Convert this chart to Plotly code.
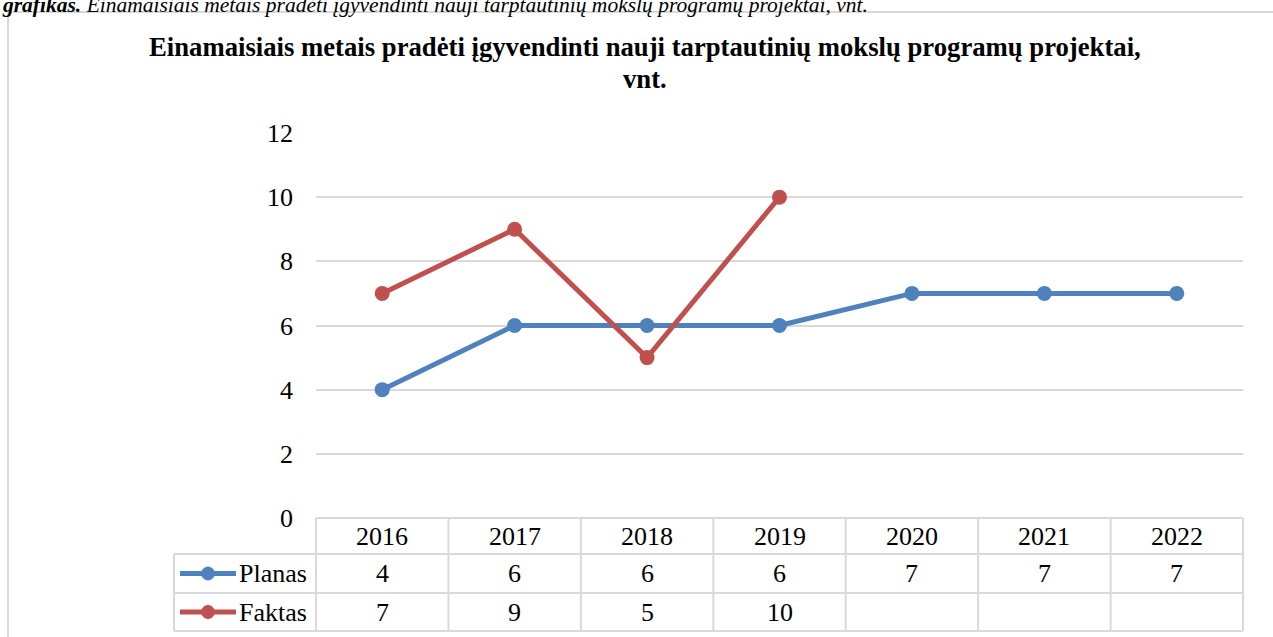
import plotly.graph_objects as go

# data
years = ["2016", "2017", "2018", "2019", "2020", "2021", "2022"]
planas = [4, 6, 6, 6, 7, 7, 7]
faktas = [7, 9, 5, 10, None, None, None]
y_ticks = [0, 2, 4, 6, 8, 10, 12]
series_names = ["Planas", "Faktas"]

W, H = 1273, 637
BLUE = "#4F81BD"
RED = "#C0504D"
GRID = "#D9D9D9"
FONT = "Times New Roman, Liberation Serif, serif"
FS = 26

# pixel helpers
def px(x):
    return x / W

def py(y):
    return 1 - y / H

x0, x1 = 316, 1243   # plot area left/right
y_top, y_zero = 133, 518
row_y = [518, 554, 593, 631]  # table horizontal lines
leg_x = 174

fig = go.Figure()
idx = list(range(len(years)))
fig.add_trace(go.Scatter(x=idx, y=planas, mode="lines+markers", name="Planas",
                         line=dict(color=BLUE, width=5), marker=dict(size=15, color=BLUE)))
fig.add_trace(go.Scatter(x=idx, y=faktas, mode="lines+markers", name="Faktas",
                         line=dict(color=RED, width=5), marker=dict(size=15, color=RED)))

shapes = []
def hline(y, xa, xb):
    shapes.append(dict(type="line", xref="paper", yref="paper", x0=px(xa), x1=px(xb),
                       y0=py(y), y1=py(y), line=dict(color=GRID, width=2)))
def vline(x, ya, yb):
    shapes.append(dict(type="line", xref="paper", yref="paper", x0=px(x), x1=px(x),
                       y0=py(ya), y1=py(yb), line=dict(color=GRID, width=2)))

# chart border
hline(12, 8, 1290)
vline(8, 12, 650)

# data table grid
hline(row_y[0], x0, x1)
for r in row_y[1:]:
    hline(r, leg_x, x1)
vline(leg_x, row_y[1], row_y[3])
col_w = (x1 - x0) / len(years)
for k in range(len(years) + 1):
    vline(x0 + k * col_w, row_y[0], row_y[3])

annotations = []
# caption above chart (cut at top, as in the source page)
annotations.append(dict(xref="paper", yref="paper", x=0, y=py(19), xanchor="left", yanchor="bottom",
                        text="<b><i>grafikas.</i></b><i> Einamaisiais metais pradėti įgyvendinti nauji tarptautinių mokslų programų projektai, vnt.</i>",
                        showarrow=False, font=dict(family=FONT, size=21.5, color="#000")))
# title, two lines
title_lines = ["Einamaisiais metais pradėti įgyvendinti nauji tarptautinių mokslų programų projektai,", "vnt."]
for k, t in enumerate(title_lines):
    annotations.append(dict(xref="paper", yref="paper", x=px(645), y=py(30 + 32 * k), xanchor="center",
                            yanchor="top", text="<b>" + t + "</b>", showarrow=False,
                            font=dict(family=FONT, size=26.7, color="#000")))

# table texts
row_mid = [(row_y[i] + row_y[i + 1]) / 2 for i in range(3)]
for i, yr in enumerate(years):
    annotations.append(dict(xref="x", yref="paper", x=i, y=py(row_mid[0]), text=yr, showarrow=False,
                            xanchor="center", yanchor="middle",
                            font=dict(family=FONT, size=FS, color="#000")))
for r, vals in enumerate([planas, faktas]):
    for i, v in enumerate(vals):
        if v is None:
            continue
        annotations.append(dict(xref="x", yref="paper", x=i, y=py(row_mid[r + 1]), text=str(v),
                                showarrow=False, xanchor="center", yanchor="middle",
                                font=dict(family=FONT, size=FS, color="#000")))

# legend keys in table
for r, (name, col) in enumerate(zip(series_names, [BLUE, RED])):
    ym = row_mid[r + 1]
    shapes.append(dict(type="line", xref="paper", yref="paper", x0=px(180), x1=px(236),
                       y0=py(ym), y1=py(ym), line=dict(color=col, width=5)))
    shapes.append(dict(type="circle", xref="paper", yref="paper", x0=px(201.5), x1=px(214.5),
                       y0=py(ym + 6.5), y1=py(ym - 6.5), fillcolor=col, line=dict(color=col, width=1)))
    annotations.append(dict(xref="paper", yref="paper", x=px(237), y=py(ym), xanchor="left",
                            yanchor="middle", text=name, showarrow=False,
                            font=dict(family=FONT, size=FS, color="#000")))

fig.update_layout(
    width=W, height=H, margin=dict(l=0, r=0, t=0, b=0, autoexpand=False),
    paper_bgcolor="white", plot_bgcolor="white", showlegend=False,
    shapes=shapes, annotations=annotations,
    xaxis=dict(domain=[px(x0), px(x1)], range=[-0.5, len(years) - 0.5], showgrid=False, automargin=False,
               showticklabels=False, zeroline=False, showline=False, fixedrange=True),
    yaxis=dict(domain=[py(y_zero), py(y_top)], range=[0, 12], tickvals=y_ticks, automargin=False,
               showgrid=True, gridcolor=GRID, gridwidth=2, zeroline=False, showline=False,
               ticklabelstandoff=22, tickfont=dict(family=FONT, size=FS, color="#000"), fixedrange=True),
)

fig.write_html("out.html", config={"displayModeBar": False},
               post_script="document.body.style.margin='0';document.body.style.overflow='hidden';")
